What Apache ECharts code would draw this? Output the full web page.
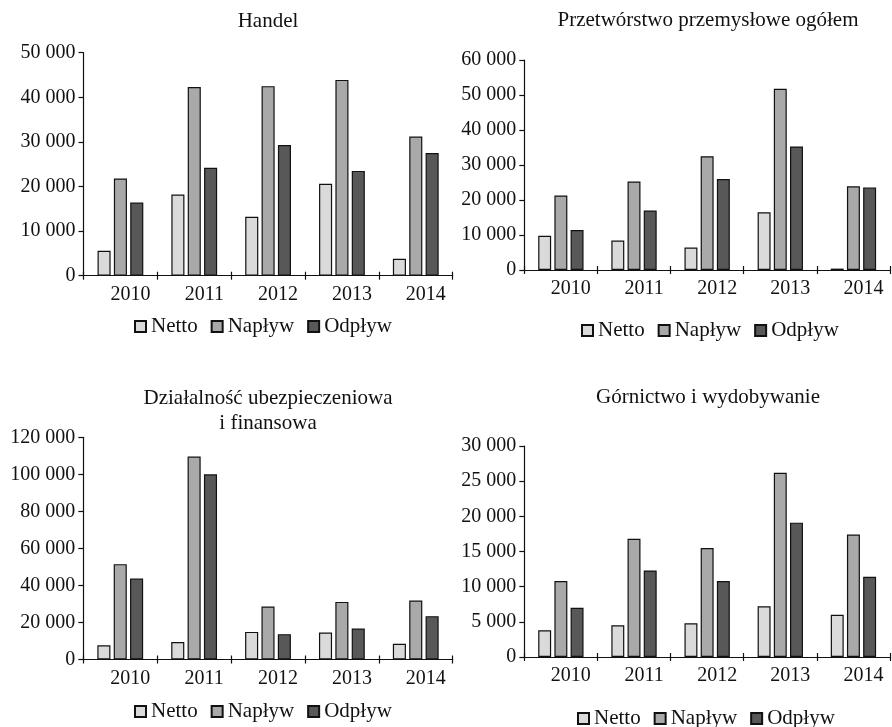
<!DOCTYPE html>
<html>
<head>
<meta charset="utf-8">
<script src="https://cdn.jsdelivr.net/npm/echarts@6/dist/echarts.min.js"></script>
<style>
  html, body { margin: 0; padding: 0; background: #ffffff; }
  #chart { width: 892px; height: 727px; }
</style>
</head>
<body>
<div id="chart"></div>
<script>
// Categories and series names
const years = ['2010', '2011', '2012', '2013', '2014'];
const seriesNames = ['Netto', 'Napływ', 'Odpływ'];

// Handel
const handelNetto   = [5600, 18200, 13200, 20600, 3800];
const handelNaplyw  = [21800, 42300, 42500, 43900, 31200];
const handelOdplyw  = [16400, 24200, 29300, 23500, 27500];
const handelTicks   = [0, 10000, 20000, 30000, 40000, 50000];

// Przetwórstwo przemysłowe ogółem
const przetwNetto   = [9800, 8400, 6400, 16500, 400];
const przetwNaplyw  = [21300, 25300, 32500, 51800, 23900];
const przetwOdplyw  = [11400, 17000, 26000, 35300, 23600];
const przetwTicks   = [0, 10000, 20000, 30000, 40000, 50000, 60000];

// Działalność ubezpieczeniowa i finansowa
const finanseNetto  = [7700, 9400, 14900, 14600, 8500];
const finanseNaplyw = [51500, 109600, 28600, 31100, 31800];
const finanseOdplyw = [43700, 100000, 13700, 16700, 23400];
const finanseTicks  = [0, 20000, 40000, 60000, 80000, 100000, 120000];

// Górnictwo i wydobywanie
const gornNetto     = [3800, 4500, 4800, 7200, 6000];
const gornNaplyw    = [10800, 16800, 15500, 26200, 17400];
const gornOdplyw    = [7000, 12300, 10800, 19100, 11400];
const gornTicks     = [0, 5000, 10000, 15000, 20000, 25000, 30000];

const titles = [
  'Handel',
  'Przetwórstwo przemysłowe ogółem',
  'Działalność ubezpieczeniowa\ni finansowa',
  'Górnictwo i wydobywanie'
];

const panelData = [
  [handelNetto, handelNaplyw, handelOdplyw],
  [przetwNetto, przetwNaplyw, przetwOdplyw],
  [finanseNetto, finanseNaplyw, finanseOdplyw],
  [gornNetto, gornNaplyw, gornOdplyw]
];
const panelTicks = [handelTicks, przetwTicks, finanseTicks, gornTicks];

// Layout of the four panels (pixels)
const grids = [
  { left: 83.5,  top: 52.7,  width: 369.2, height: 223.0 },
  { left: 524.3, top: 60.0,  width: 365.7, height: 210.0 },
  { left: 83.3,  top: 437.3, width: 369.4, height: 222.2 },
  { left: 524.3, top: 446.0, width: 365.7, height: 211.0 }
];
const titlePos = [
  { x: 268, y: 9 },
  { x: 708, y: 8 },
  { x: 268, y: 386 },
  { x: 708, y: 385.5 }
];
const legendPos = [
  { x: 134, y: 316 },
  { x: 581, y: 320 },
  { x: 134, y: 701 },
  { x: 577, y: 708 }
];

const fillColors = ['#dadada', '#a9a9a9', '#585858'];
const fontFamily = '"Liberation Serif", "DejaVu Serif", serif';
const ink = '#111111';
const fmt = v => String(v).replace(/\B(?=(\d{3})+(?!\d))/g, ' ');

const option = {
  animation: false,
  backgroundColor: '#ffffff',
  textStyle: { fontFamily: fontFamily, color: ink },
  title: titles.map((t, i) => ({
    text: t,
    left: titlePos[i].x,
    top: titlePos[i].y,
    textAlign: 'center',
    padding: 0,
    textStyle: { fontFamily: fontFamily, fontSize: 21, fontWeight: 'normal', color: ink, lineHeight: 24.7 }
  })),
  legend: legendPos.map((p, i) => ({
    data: seriesNames,
    left: p.x,
    top: p.y,
    orient: 'horizontal',
    icon: 'rect',
    itemWidth: 11,
    itemHeight: 11,
    itemGap: 13,
    selectedMode: false,
    padding: 0,
    textStyle: { fontFamily: fontFamily, fontSize: 21, color: ink }
  })),
  grid: grids.map(g => ({ left: g.left, top: g.top, width: g.width, height: g.height, containLabel: false })),
  xAxis: [].concat(
    grids.map((g, i) => ({
      type: 'category',
      gridIndex: i,
      data: years,
      position: 'bottom',
      axisLine: { show: true, lineStyle: { color: ink, width: 1.2 } },
      axisTick: { show: true, inside: false, length: 4, alignWithLabel: false, lineStyle: { color: ink, width: 1.2 } },
      axisLabel: { show: true, fontFamily: fontFamily, fontSize: 20, color: ink, margin: 9, padding: [0, 0, 0, 20] },
      splitLine: { show: false }
    })),
    grids.map((g, i) => ({
      type: 'category',
      gridIndex: i,
      data: years,
      position: 'bottom',
      axisLine: { show: false },
      axisTick: { show: true, inside: true, length: 4, alignWithLabel: false, lineStyle: { color: ink, width: 1.2 } },
      axisLabel: { show: false },
      splitLine: { show: false }
    }))
  ),
  yAxis: grids.map((g, i) => {
    const ticks = panelTicks[i];
    return {
      type: 'value',
      gridIndex: i,
      min: ticks[0],
      max: ticks[ticks.length - 1],
      interval: ticks[1] - ticks[0],
      axisLine: { show: true, lineStyle: { color: ink, width: 1.2 } },
      axisTick: { show: true, inside: false, length: 5, lineStyle: { color: ink, width: 1.2 } },
      axisLabel: { fontFamily: fontFamily, fontSize: 20, color: ink, margin: 8, formatter: fmt },
      splitLine: { show: false }
    };
  }),
  series: []
};

panelData.forEach((arrs, i) => {
  arrs.forEach((values, k) => {
    option.series.push({
      type: 'bar',
      name: seriesNames[k],
      xAxisIndex: i,
      yAxisIndex: i,
      data: values,
      barCategoryGap: '38%',
      barGap: '25%',
      itemStyle: { color: fillColors[k], borderColor: '#111111', borderWidth: 1.2 }
    });
  });
});

const chart = echarts.init(document.getElementById('chart'), null, { renderer: 'canvas' });
chart.setOption(option);
</script>
</body>
</html>
